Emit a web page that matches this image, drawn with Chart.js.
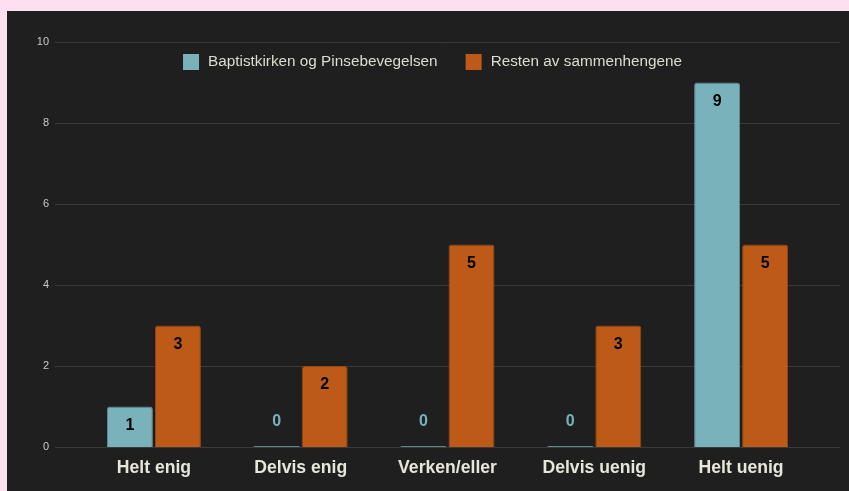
<!DOCTYPE html>
<html>
<head>
<meta charset="utf-8">
<script src="https://cdn.jsdelivr.net/npm/chart.js@4.4.1/dist/chart.umd.min.js"></script>
<style>
  html, body { margin: 0; padding: 0; background: #fde0ef; }
  #wrap { position: absolute; left: 7px; top: 11px; width: 842px; height: 480px; background: #1f1f1f; }
</style>
</head>
<body>
<div id="wrap"><canvas id="chart" width="842" height="480"></canvas></div>
<script>
const categories = ['Helt enig', 'Delvis enig', 'Verken/eller', 'Delvis uenig', 'Helt uenig'];
const seriesNames = ['Baptistkirken og Pinsebevegelsen', 'Resten av sammenhengene'];
const baptistValues = [1, 0, 0, 0, 9];
const restenValues = [3, 2, 5, 3, 5];
const yTicks = [0, 2, 4, 6, 8, 10];

const TEAL = '#7ab2bc';
const ORANGE = '#bd5a17';
const FONT = '"Liberation Sans", Arial, sans-serif';

// horizontal grid, drawn wider than the plot area
const gridLines = {
  id: 'gridLines',
  beforeDatasetsDraw(chart) {
    const { ctx, scales: { y } } = chart;
    ctx.save();
    ctx.strokeStyle = '#3a3a3a';
    ctx.lineWidth = 1;
    yTicks.forEach(t => {
      const py = Math.round(y.getPixelForValue(t)) + 0.5;
      ctx.beginPath();
      ctx.moveTo(48, py);
      ctx.lineTo(833, py);
      ctx.stroke();
    });
    ctx.restore();
  }
};

// legend sits inside the plot, between the top two grid lines
const inlineLegend = {
  id: 'inlineLegend',
  afterDraw(chart) {
    const { ctx } = chart;
    const sets = chart.data.datasets;
    ctx.save();
    ctx.font = '15.3px ' + FONT;
    ctx.textBaseline = 'middle';
    const box = 16, gap = 9, spacing = 28;
    const widths = sets.map(ds => ctx.measureText(ds.label).width);
    const total = widths.reduce((a, w) => a + box + gap + w, 0) + spacing * (sets.length - 1);
    let x = 425.5 - total / 2;
    const cy = 51;
    sets.forEach((ds, i) => {
      ctx.fillStyle = ds.backgroundColor;
      ctx.fillRect(x, cy - box / 2, box, box);
      ctx.fillStyle = '#dcdcd2';
      ctx.fillText(ds.label, x + box + gap, cy);
      x += box + gap + widths[i] + spacing;
    });
    ctx.restore();
  }
};

// value labels: inside the bar top, or above the baseline for zeros
const valueLabels = {
  id: 'valueLabels',
  afterDatasetsDraw(chart) {
    const { ctx } = chart;
    ctx.save();
    ctx.font = 'bold 16px ' + FONT;
    ctx.textAlign = 'center';
    ctx.textBaseline = 'middle';
    chart.data.datasets.forEach((ds, i) => {
      chart.getDatasetMeta(i).data.forEach((bar, j) => {
        const v = ds.data[j];
        if (v > 0) {
          ctx.fillStyle = '#000';
          ctx.fillText(String(v), bar.x, bar.y + 19);
        } else {
          ctx.fillStyle = ds.backgroundColor;
          ctx.fillText(String(v), bar.x, bar.base - 25);
        }
      });
    });
    ctx.restore();
  }
};

new Chart(document.getElementById('chart'), {
  type: 'bar',
  data: {
    labels: categories,
    datasets: [
      {
        label: seriesNames[0],
        data: baptistValues,
        backgroundColor: TEAL,
        borderColor: '#5f8f97',
        borderWidth: 1,
        borderRadius: { topLeft: 3, topRight: 3 },
        borderSkipped: 'bottom',
        minBarLength: 1
      },
      {
        label: seriesNames[1],
        data: restenValues,
        backgroundColor: ORANGE,
        borderColor: '#9a4812',
        borderWidth: 1,
        borderRadius: { topLeft: 3, topRight: 3 },
        borderSkipped: 'bottom',
        minBarLength: 1
      }
    ]
  },
  options: {
    responsive: false,
    animation: false,
    layout: { padding: { left: 0, right: 34.5, top: 31, bottom: 9 } },
    categoryPercentage: 0.654,
    barPercentage: 0.958,
    plugins: {
      legend: { display: false },
      tooltip: { enabled: false }
    },
    scales: {
      x: {
        grid: { display: false },
        border: { display: false },
        ticks: {
          color: '#e6e6da',
          padding: 3,
          font: { family: FONT, size: 17.6, weight: 'bold' }
        }
      },
      y: {
        min: 0,
        max: 10,
        afterFit(scale) {
          scale.width = 73.5;
          // the wide label padding should not push the plot down
          scale.paddingTop = 6;
          scale.paddingBottom = 6;
        },
        afterBuildTicks(scale) { scale.ticks = yTicks.map(v => ({ value: v })); },
        grid: { display: false, drawTicks: false },
        border: { display: false },
        ticks: {
          color: '#c8c8c8',
          padding: 31.5,
          font: { family: FONT, size: 11 }
        }
      }
    }
  },
  plugins: [gridLines, valueLabels, inlineLegend]
});
</script>
</body>
</html>
